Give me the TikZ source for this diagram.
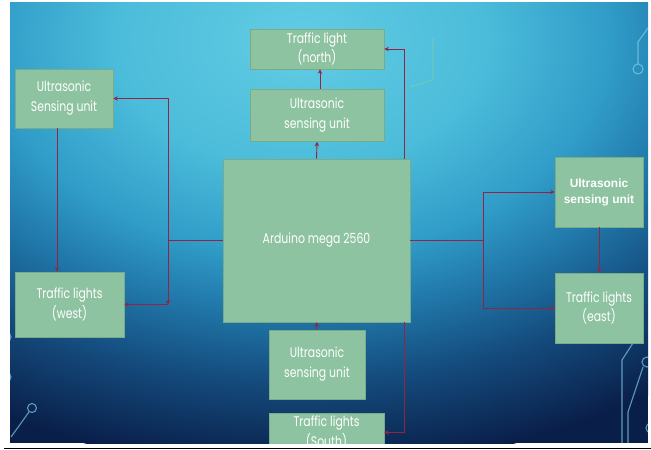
\documentclass[tikz,border=0pt]{standalone}
\usepackage{fontspec}
\usetikzlibrary{arrows.meta,calc}
\newfontfamily\boxfont{Poppins}[FakeStretch=0.78]
\newfontfamily\arialfont{Liberation Sans}
\definecolor{boxfill}{RGB}{141,195,160}
\definecolor{boxline}{RGB}{118,172,138}
\definecolor{wire}{RGB}{150,35,65}
\definecolor{deco}{RGB}{130,205,230}
\definecolor{bg0}{RGB}{98,204,228}
\definecolor{bg1}{RGB}{75,188,218}
\definecolor{bg2}{RGB}{48,156,200}
\definecolor{bg3}{RGB}{32,118,168}
\definecolor{bg4}{RGB}{20,74,124}
\definecolor{bg5}{RGB}{9,30,72}
\pgfdeclareradialshading{bgshade}{\pgfpoint{0bp}{0bp}}{color(0bp)=(bg0); color(7.5bp)=(bg1); color(12.5bp)=(bg2); color(16bp)=(bg3); color(20bp)=(bg4); color(25bp)=(bg5); color(50bp)=(bg5)}
\tikzset{
  box/.style={draw=boxline, fill=boxfill, inner sep=0pt, text=white, align=center,
    font=\boxfont\fontsize{14}{20}\selectfont, line width=0.6bp},
  wire/.style={draw=wire, line width=0.9bp},
  arr/.style={wire, -{Stealth[length=4.5bp,width=4.5bp]}},
  decoline/.style={draw=deco, line width=1.1bp, opacity=0.7}
}
\begin{document}
\begin{tikzpicture}[x=1bp,y=-1bp]
\useasboundingbox (0,0) rectangle (651,450);
\fill[white] (0,0) rectangle (651,450);
\begin{scope}
\clip (10,3) rectangle (648,443);
\fill[bg5] (10,3) rectangle (648,443);
\shade[shading=bgshade] (300,40) ellipse (620 and 430);
% decorations
\draw[decoline] (648,28) -- (638,42) -- (638,64);
\draw[decoline] (638,69) circle (5);
\draw[decoline] (32,408) circle (4.5);
\draw[decoline] (29,412) -- (11,437);
\draw[decoline] (6,337) circle (5);
\draw[decoline] (6,377) circle (5);
\draw[decoline] (633,343) -- (622,360) -- (622,443);
\draw[decoline] (647,362) circle (5);
\draw[decoline] (643,367) -- (628,412) -- (628,443);
\draw[decoline] (651,428) circle (5);
\draw[draw={rgb,255:red,170;green,215;blue,110}, line width=1.3bp, opacity=0.3] (433,38) -- (433,80) -- (410,87);
% boxes
\node[box, minimum width=134bp, minimum height=40bp] (ntl) at (317,49) {Traffic light\\(north)};
\node[box, minimum width=134bp, minimum height=52bp] (nus) at (317,115.5) {Ultrasonic\\sensing unit};
\node[box, minimum width=187bp, minimum height=163bp] (ard) at (316.5,240.5) {Arduino mega 2560};
\node[box, minimum width=98bp, minimum height=59bp] (wus) at (64,98.5) {Ultrasonic\\Sensing unit};
\node[box, minimum width=109bp, minimum height=65bp] (wtl) at (69.5,304.5) {Traffic lights\\(west)};
\node[box, minimum width=88bp, minimum height=70bp, font=\arialfont\bfseries\fontsize{12}{16}\selectfont] (eus) at (599,192) {Ultrasonic\\sensing unit};
\node[box, minimum width=88bp, minimum height=70bp] (etl) at (599,308) {Traffic lights\\(east)};
\node[box, minimum width=96bp, minimum height=69bp] (sus) at (317,364.5) {Ultrasonic\\sensing unit};
\node[box, minimum width=115bp, minimum height=39bp] (stl) at (326.5,432.5) {Traffic lights\\(South)};
% connectors
\coordinate (jw) at (168,240.5);
\coordinate (cw) at (168,304.5);
\coordinate (je) at (483,240.5);
\draw[arr] (ard.north) -- (nus.south);
\draw[arr] ([xshift=3bp]nus.north) -- ([xshift=3bp]ntl.south);
\draw[arr] ([xshift=-6bp]ard.north east) |- (ntl.east);
\draw[wire] (ard.west) -- (jw);
\draw[arr] (jw) |- (wus.east);
\draw[arr] (jw) -- (cw);
\draw[arr] (cw) -- (wtl.east);
\draw[arr] ([xshift=-7bp]wus.south) -- ([xshift=-7bp]wus.south |- wtl.north);
\draw[wire] (ard.east) -- (je);
\draw[arr] (je) |- (eus.west);
\draw[arr] (je) |- (etl.west);
\draw[arr] (eus.south) -- (etl.north);
\draw[arr] (sus.north) -- (ard.south);
\draw[arr] ([xshift=-6bp]ard.south east) |- (stl.east);
\end{scope}
\draw[line width=1.5bp] (4,448.5) -- (651,448.5);
\end{tikzpicture}
\end{document}
